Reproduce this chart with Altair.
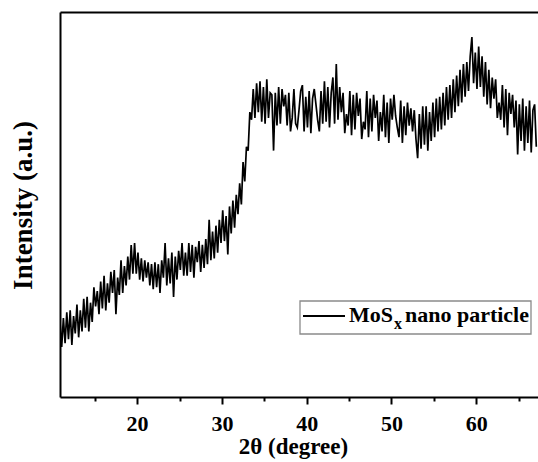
import altair as alt
import pandas as pd

# XRD scan: 2-theta grid start / step (degrees)
scan_start = 10.9
scan_step = 0.2

# Intensity (a.u.), one value per scan step
intensity = [
    19.5, 13.0, 20.5, 14.0, 22.0,
    15.0, 22.5, 13.5, 21.0, 16.5,
    24.0, 15.5, 22.5, 17.0, 25.5,
    18.0, 26.0, 17.0, 24.5, 19.5,
    28.5, 23.5, 27.5, 21.5, 30.0,
    23.0, 31.5, 22.5, 29.5, 24.5,
    32.5, 27.0, 33.0, 21.5, 31.0,
    26.5, 35.5, 27.0, 34.0, 29.0,
    36.5, 30.5, 39.5, 32.0, 40.0,
    32.0, 37.5, 30.5, 36.0, 30.0,
    35.5, 31.0, 35.0, 29.0, 34.5,
    28.0, 35.0, 28.5, 34.5, 27.0,
    35.5, 31.0, 40.0, 29.0, 36.0,
    29.5, 37.5, 26.0, 36.5, 30.5,
    38.0, 33.0, 40.0, 31.5, 37.5,
    31.5, 40.0, 32.5, 39.5, 31.0,
    39.0, 35.0, 40.5, 32.5, 39.5,
    33.5, 41.0, 34.5, 46.0, 35.5,
    43.0, 36.0, 44.5, 37.5, 46.0,
    40.0, 48.5, 40.5, 47.0, 37.0,
    49.5, 42.5, 51.0, 44.0, 52.5,
    47.5, 55.5, 50.0, 61.0, 56.0,
    65.0, 64.0, 74.0, 72.0, 80.0,
    72.5, 81.5, 74.0, 82.0, 71.5,
    80.5, 71.0, 82.5, 72.5, 79.0,
    78.5, 64.0, 79.0, 70.5, 80.5,
    71.0, 80.0, 75.5, 78.5, 70.5,
    79.0, 69.0, 72.5, 80.0, 71.0,
    70.0, 74.5, 79.5, 81.0, 69.0,
    78.0, 70.0, 79.5, 68.5, 77.5,
    80.0, 76.0, 72.0, 69.0, 79.5,
    71.0, 82.0, 71.5, 80.5, 70.0,
    79.0, 83.0, 71.0, 86.5, 72.0,
    80.5, 74.0, 79.0, 68.5, 73.5,
    70.5, 79.5, 68.0, 78.5, 69.5,
    79.0, 73.0, 77.5, 67.0, 71.5,
    69.5, 79.5, 67.5, 77.5, 69.0,
    78.5, 72.5, 77.0, 66.5, 74.0,
    69.0, 78.5, 67.5, 76.5, 66.0,
    77.5, 72.0, 78.5, 73.0, 70.0,
    67.5, 77.0, 66.0, 75.5, 68.0,
    76.5, 70.5, 75.0, 69.0, 74.5,
    67.0, 62.0, 73.5, 64.5, 75.5,
    65.5, 75.5, 64.0, 74.0, 66.5,
    76.5, 67.5, 77.5, 69.0, 78.0,
    69.5, 79.0, 70.5, 80.5, 72.0,
    81.0, 72.5, 82.5, 74.0, 83.5,
    75.5, 85.0, 76.5, 86.5, 78.0,
    87.0, 79.5, 88.5, 93.5, 81.5,
    89.5, 80.0, 91.0, 80.5, 88.5,
    78.0, 87.0, 76.0, 85.0, 75.0,
    83.0, 77.5, 82.5, 72.5, 76.5,
    72.0, 81.0, 70.0, 80.0, 68.0,
    79.0, 73.5, 78.5, 70.0, 77.0,
    63.0, 76.0, 66.5, 77.5, 64.0,
    75.5, 66.0, 77.0, 63.5, 74.5,
    76.0, 65.0,
]
two_theta = [round(scan_start + scan_step * i, 2) for i in range(len(intensity))]

x_domain = [10.9, 67.3]
y_domain = [0, 100]
tick_values = [15, 20, 25, 30, 35, 40, 45, 50, 55, 60, 65]

legend_parts = ["MoS", "x", "nano particle"]

df = pd.DataFrame({"two_theta": two_theta, "intensity": intensity})
one = pd.DataFrame({"k": [0]})

FONT = "Liberation Serif"

x_enc = alt.X(
    "two_theta:Q",
    scale=alt.Scale(domain=x_domain, nice=False, zero=False),
    axis=alt.Axis(
        orient="bottom",
        values=tick_values,
        labelExpr="datum.value % 10 === 0 ? datum.label : ''",
        tickSize={"condition": {"test": "datum.value % 10 === 0", "value": 7}, "value": 4},
        tickWidth=2,
        tickColor="black",
        domainColor="black",
        domainWidth=2,
        grid=False,
        labelFont=FONT,
        labelFontWeight="bold",
        labelFontSize=22,
        labelColor="black",
        labelBaseline="alphabetic",
        labelPadding=26,
        title="2θ (degree)",
        titleFont=FONT,
        titleFontWeight="bold",
        titleFontSize=23,
        titleColor="black",
        titleX=233,
        titleY=56,
        titleBaseline="alphabetic",
    ),
)

y_enc = alt.Y(
    "intensity:Q",
    scale=alt.Scale(domain=y_domain, nice=False),
    axis=alt.Axis(
        labels=False,
        ticks=False,
        grid=False,
        domainColor="black",
        domainWidth=2,
        title="Intensity (a.u.)",
        titleFont=FONT,
        titleFontWeight="bold",
        titleFontSize=27,
        titleColor="black",
        titleX=-37,
        titleY=193,
        titleAngle=270,
        titleBaseline="middle",
        titleAlign="center",
    ),
)

line = alt.Chart(df).mark_line(color="black", strokeWidth=1.7, clip=True).encode(
    x=x_enc, y=y_enc
)

top = alt.Chart(df).mark_line(opacity=0).encode(
    x=alt.X(
        "two_theta:Q",
        scale=alt.Scale(domain=x_domain, nice=False, zero=False),
        axis=alt.Axis(orient="top", labels=False, ticks=False, title=None,
                      grid=False, domainColor="black", domainWidth=2),
    ),
    y=alt.Y("intensity:Q", scale=alt.Scale(domain=y_domain, nice=False)),
)

legend_box = alt.Chart(one).mark_rect(fill="white", stroke="#8a8a8a", strokeWidth=1.3).encode(
    x=alt.value(240), x2=alt.value(471), y=alt.value(289), y2=alt.value(322)
)
legend_line = alt.Chart(one).mark_rule(color="black", strokeWidth=2).encode(
    x=alt.value(243), x2=alt.value(285), y=alt.value(304)
)
legend_t1 = alt.Chart(one).mark_text(
    text=legend_parts[0], font=FONT, fontWeight="bold", fontSize=22, color="black",
    align="left", baseline="alphabetic"
).encode(x=alt.value(289), y=alt.value(310))
legend_t2 = alt.Chart(one).mark_text(
    text=legend_parts[1], font=FONT, fontWeight="bold", fontSize=16, color="black",
    align="left", baseline="alphabetic"
).encode(x=alt.value(334), y=alt.value(317))
legend_t3 = alt.Chart(one).mark_text(
    text=legend_parts[2], font=FONT, fontWeight="bold", fontSize=22, color="black",
    align="right", baseline="alphabetic"
).encode(x=alt.value(469), y=alt.value(310))

chart = alt.layer(
    line, top, legend_box, legend_line, legend_t1, legend_t2, legend_t3
).resolve_axis(x="independent").properties(
    width=478,
    height=385,
    padding={"left": 60, "top": 12, "right": 0, "bottom": 65},
    autosize=alt.AutoSizeParams(type="none"),
    background="white",
).configure_view(stroke=None)

chart.save("out.html", embed_options={"renderer": "svg", "actions": False})
